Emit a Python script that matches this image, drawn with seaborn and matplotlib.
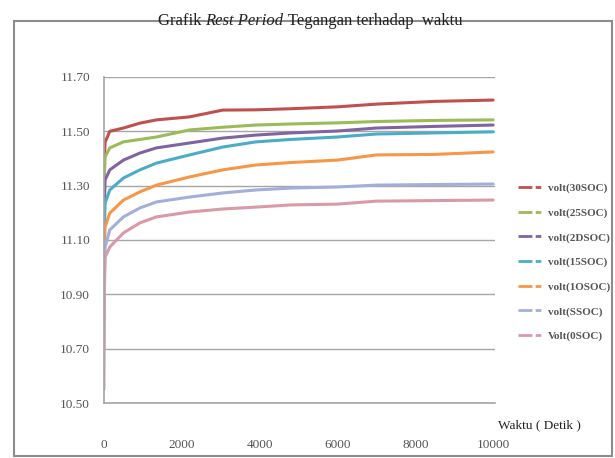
import matplotlib
matplotlib.use("Agg")
import matplotlib.pyplot as plt
import seaborn as sns
import pandas as pd
from matplotlib.lines import Line2D
from matplotlib.patches import Rectangle

# ---- data ----
time = [0, 10, 30, 150, 500, 925, 1350, 2200, 3050, 3900, 4800, 6000, 7000, 8500, 10000]
volt_30 = [11.25, 11.40, 11.46, 11.50, 11.512, 11.53, 11.542, 11.553, 11.578, 11.579, 11.583, 11.59, 11.60, 11.61, 11.615]
volt_25 = [11.15, 11.33, 11.406, 11.439, 11.461, 11.47, 11.479, 11.505, 11.515, 11.523, 11.527, 11.531, 11.536, 11.54, 11.542]
volt_20 = [11.05, 11.22, 11.321, 11.358, 11.394, 11.42, 11.439, 11.457, 11.475, 11.486, 11.494, 11.501, 11.512, 11.518, 11.523]
volt_15 = [10.95, 11.13, 11.236, 11.284, 11.328, 11.358, 11.383, 11.413, 11.442, 11.461, 11.47, 11.479, 11.49, 11.494, 11.498]
volt_10 = [10.85, 11.04, 11.148, 11.199, 11.247, 11.277, 11.302, 11.332, 11.358, 11.376, 11.385, 11.394, 11.413, 11.415, 11.424]
volt_5 = [10.70, 10.95, 11.074, 11.137, 11.185, 11.218, 11.24, 11.258, 11.273, 11.284, 11.291, 11.295, 11.302, 11.304, 11.306]
volt_0 = [10.55, 10.90, 11.037, 11.074, 11.126, 11.163, 11.185, 11.203, 11.214, 11.221, 11.229, 11.232, 11.243, 11.245, 11.247]

series_labels = ["volt(30SOC)", "volt(25SOC)", "volt(2DSOC)", "volt(15SOC)",
                 "volt(1OSOC)", "volt(SSOC)", "Volt(0SOC)"]
series_values = [volt_30, volt_25, volt_20, volt_15, volt_10, volt_5, volt_0]
colors = ["#C0504D", "#9BBB59", "#8064A2", "#4BACC6", "#F79646", "#A3AEDB", "#D99AA8"]

y_ticks = [10.50, 10.70, 10.90, 11.10, 11.30, 11.50, 11.70]
x_ticks = [0, 2000, 4000, 6000, 8000, 10000]

title_parts = [("Grafik ", "normal"), ("Rest Period", "italic"), (" Tegangan terhadap  waktu", "normal")]
x_label = "Waktu ( Detik )"

# ---- long-form table ----
rows = []
for lab, vals in zip(series_labels, series_values):
    for t, v in zip(time, vals):
        rows.append({"t": t, "v": v, "series": lab})
df = pd.DataFrame(rows)

sns.set_theme(style="white")
plt.rcParams["font.family"] = ["Liberation Serif", "DejaVu Serif"]

fig = plt.figure(figsize=(6.15, 4.58), dpi=100)
ax = fig.add_axes([0.169, 0.120, 0.636, 0.712])

sns.lineplot(data=df, x="t", y="v", hue="series", hue_order=series_labels,
             palette=dict(zip(series_labels, colors)), linewidth=2.2,
             legend=False, ax=ax)

ax.set_xlim(0, 10050)
ax.set_ylim(10.50, 11.70)
ax.set_yticks(y_ticks)
ax.set_yticklabels([f"{v:.2f}" for v in y_ticks])
ax.set_xticks(x_ticks)
ax.set_xticklabels([str(v) for v in x_ticks])
ax.set_xlabel("")
ax.set_ylabel("")
ax.grid(axis="y", color="#A6A6A6", linewidth=1.0)
ax.grid(axis="x", visible=False)
for s in ["top", "right"]:
    ax.spines[s].set_visible(False)
for s in ["left", "bottom"]:
    ax.spines[s].set_color("#A6A6A6")
    ax.spines[s].set_linewidth(1.2)
ax.tick_params(axis="y", length=0, pad=10, labelsize=9.5, labelcolor="#555555")
ax.tick_params(axis="x", length=0, pad=26, labelsize=9.5, labelcolor="#555555")

# legend
handles = [Line2D([0], [0], color=c, linewidth=2, linestyle=(0, (5, 1.2, 2, 1))) for c in colors]
leg = ax.legend(handles, series_labels, loc="upper left", bbox_to_anchor=(0.826, 0.622),
                bbox_transform=fig.transFigure, frameon=False, handlelength=2.2,
                handletextpad=0.5, labelspacing=1.32, prop={"size": 8, "weight": "bold"})
for txt in leg.get_texts():
    txt.set_color("#555555")

# x label
fig.text(0.81, 0.072, x_label, fontsize=9.5, color="#222222", ha="left", va="center")

# outer frame
fig.patches.append(Rectangle((0.023, 0.004), 0.972, 0.95, transform=fig.transFigure,
                             fill=False, edgecolor="#8C8C8C", linewidth=1.5))

# title with italic part
fig.canvas.draw()
renderer = fig.canvas.get_renderer()
pieces = []
for s, style in title_parts:
    pieces.append(fig.text(0, 0.955, s, fontsize=12, style=style, color="#222222",
                           ha="left", va="center"))
widths = [p.get_window_extent(renderer).width / fig.bbox.width for p in pieces]
x0 = 0.504 - sum(widths) / 2
for p, w in zip(pieces, widths):
    p.set_x(x0)
    x0 += w

fig.savefig("out.png", dpi=100)
